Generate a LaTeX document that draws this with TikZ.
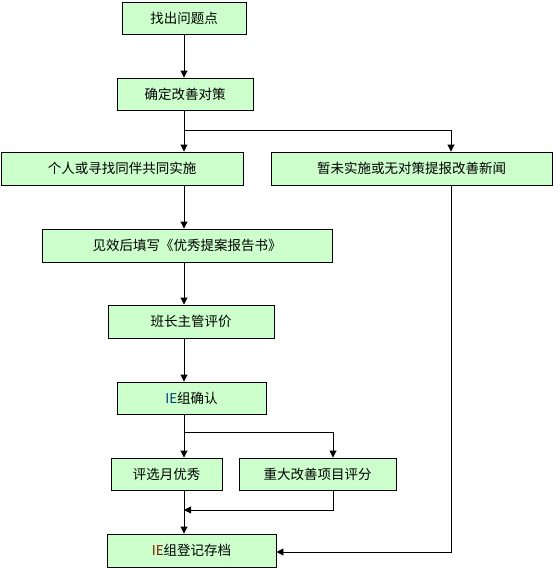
\documentclass[tikz,border=0pt]{standalone}
\usepackage{fontspec}
\newfontfamily\cjk{Noto Sans CJK SC}
\usetikzlibrary{arrows.meta}
\definecolor{boxgreen}{HTML}{CCFFCC}
\definecolor{ieblue}{RGB}{0,60,120}
\definecolor{iered}{RGB}{120,30,0}
\tikzset{
  box/.style={draw,fill=boxgreen,minimum height=32pt,inner sep=0pt,font=\cjk\fontsize{13.5}{16}\selectfont},
  arr/.style={-{Triangle[length=7pt,width=7pt]}}
}
\begin{document}
\begin{tikzpicture}[x=1pt,y=-1pt,line width=0.9pt]
            \useasboundingbox (0,0) rectangle (553,568);
            \node[box,minimum width=124pt] (find) at (184,18) {找出问题点};
            \node[box,minimum width=136pt] (plan) at (185,94) {确定改善对策};
            \node[box,minimum width=242pt,minimum height=33pt] (self) at (122,168.5) {个人或寻找同伴共同实施};
            \node[box,minimum width=281pt,minimum height=33pt] (news) at (411.5,168.5) {暂未实施或无对策提报改善新闻};
            \node[box,minimum width=290pt,minimum height=33pt] (report) at (187,245.5) {见效后填写《优秀提案报告书》};
            \node[box,minimum width=166pt,minimum height=33pt] (review) at (191,321.5) {班长主管评价};
            \node[box,minimum width=149pt] (confirm) at (191.5,398) {\textcolor{ieblue}{IE}组确认};
            \node[box,minimum width=111pt] (monthly) at (166.5,474) {评选月优秀};
            \node[box,minimum width=157pt] (major) at (317.5,474) {重大改善项目评分};
            \node[box,minimum width=169pt,minimum height=33pt] (archive) at (191.5,550.5) {\textcolor{iered}{IE}组登记存档};
            \coordinate (fork1) at (184,130);
            \coordinate (fork2) at (184,432);
            \coordinate (merge) at (184,510);
            \draw[arr] (find.south -| fork1) -- (fork1 |- plan.north);
            \draw[arr] (plan.south -| fork1) -- (fork1 |- self.north);
            \draw[arr] (fork1) -| ([xshift=39.5pt]news.north);
            \draw[arr] (self.south -| fork1) -- (fork1 |- report.north);
            \draw[arr] (report.south -| fork1) -- (fork1 |- review.north);
            \draw[arr] (review.south -| fork1) -- (fork1 |- confirm.north);
            \draw[arr] (confirm.south -| fork2) -- (fork2 |- monthly.north);
            \draw[arr] (fork2) -| ([xshift=15.5pt]major.north);
            \draw[arr] ([xshift=15.5pt]major.south) |- (merge);
            \draw[arr] (monthly.south -| merge) -- (merge |- archive.north);
            \draw[arr] ([xshift=39.5pt]news.south) |- ([yshift=-1.5pt]archive.east);
         \end{tikzpicture}
\end{document}
